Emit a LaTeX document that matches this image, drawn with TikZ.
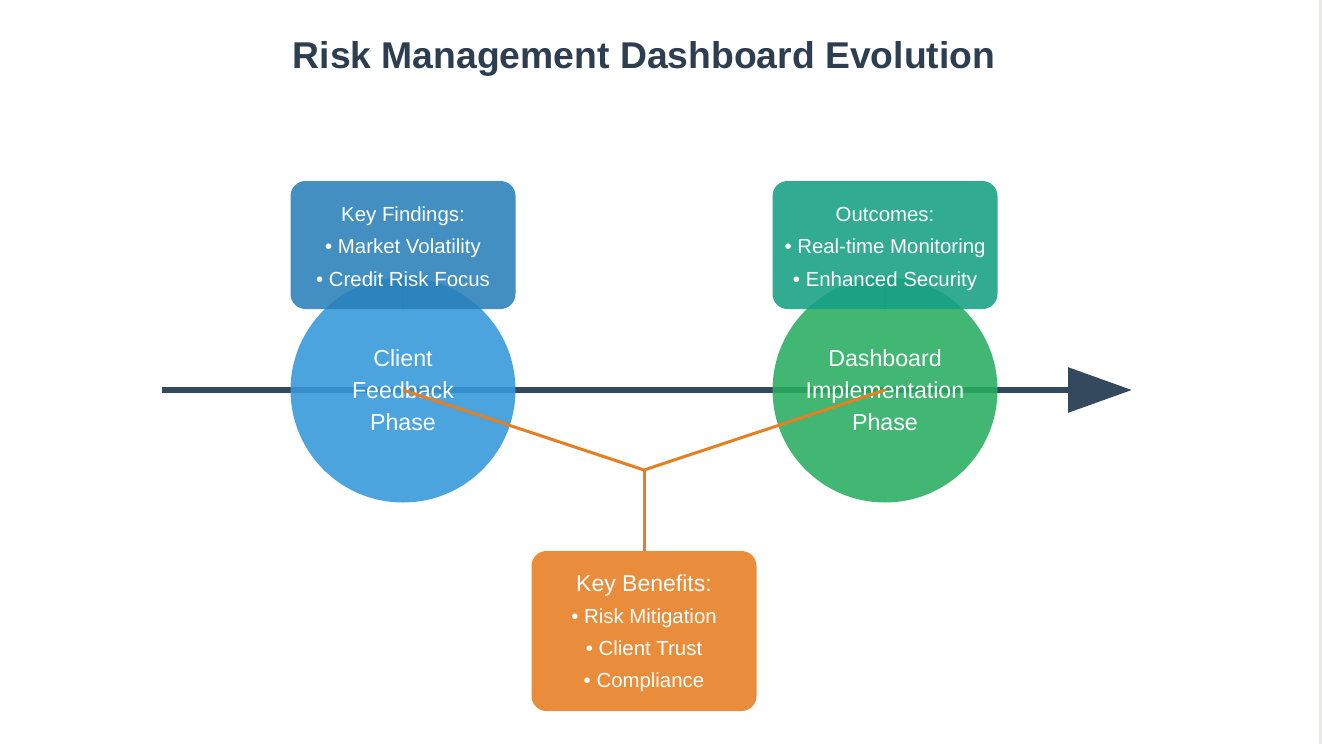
\documentclass[tikz,border=0pt]{standalone}
\usepackage{fontspec}
\setmainfont{Liberation Sans}
\usetikzlibrary{arrows.meta,backgrounds}
\definecolor{axiscol}{HTML}{34495E}
\definecolor{titlecol}{HTML}{2C3E50}
\definecolor{clientcol}{HTML}{3498DB}
\definecolor{findcol}{HTML}{2980B9}
\definecolor{dashcol}{HTML}{27AE60}
\definecolor{outcol}{HTML}{16A085}
\definecolor{benefitcol}{HTML}{E67E22}
\definecolor{edgecol}{HTML}{E8E8E4}
\newcommand{\rowtop}{\rule{0pt}{27pt}}
\tikzset{
	phase/.style={circle, minimum size=225pt, inner sep=0pt, fill opacity=0.88, text opacity=1, text=white, align=center, font=\fontsize{23.2}{32}\selectfont},
	infobox/.style={rectangle, rounded corners=15pt, minimum width=225pt, inner sep=0pt, fill opacity=0.88, text opacity=1, text=white, align=center, font=\fontsize{20.4}{32.5}\selectfont},
	stem/.style={line width=2pt}
}
\begin{document}
\begin{tikzpicture}[x=1pt, y=-1pt, line join=round]
	\def\xc{403} \def\xd{885} \def\xj{644} \def\ya{390}
	\useasboundingbox (0,0) rectangle (1322,744);
	\node[font=\bfseries\fontsize{37.3}{40}\selectfont, text=titlecol] (title) at (\xj,59) {Risk Management Dashboard Evolution};
	\coordinate (start) at (162,\ya);
	\coordinate (end) at (1132,\ya);
	\coordinate (junction) at (\xj,470);
	\node[phase, fill=clientcol] (client) at (\xc,\ya) {\rowtop Client\\Feedback\\Phase\strut};
	\node[phase, fill=dashcol] (dash) at (\xd,\ya) {\rowtop Dashboard\\Implementation\\Phase\strut};
	\node[infobox, fill=findcol, minimum height=128pt] (findings) at (\xc,245) {\rowtop Key Findings:\\• Market Volatility\\• Credit Risk Focus\strut};
	\node[infobox, fill=outcol, minimum height=128pt] (outcomes) at (\xd,245) {\rowtop Outcomes:\\• Real-time Monitoring\\• Enhanced Security\strut};
	\begin{scope}[on background layer]
	\fill[white] (0,0) rectangle (1322,744);
	\fill[edgecol] (1319,0) rectangle (1322,744);
	\draw[axiscol, line width=6pt, -{Triangle[length=64pt, width=44pt]}] (start) -- (end);
	\draw[stem, findcol] (client.north) -- (findings.south);
	\draw[stem, outcol] (dash.north) -- (outcomes.south);
	\end{scope}
	\draw[benefitcol, line width=3pt] (client.center) -- (junction) -- (dash.center);
	\node[infobox, fill=benefitcol, minimum height=160pt, font=\fontsize{20.4}{32}\selectfont] (benefits) at (\xj,631) {\rowtop{\fontsize{23}{32}\selectfont Key Benefits:}\\• Risk Mitigation\\• Client Trust\\• Compliance\strut};
	\draw[benefitcol, line width=3pt] (junction) -- (benefits.north);
\end{tikzpicture}
\end{document}
